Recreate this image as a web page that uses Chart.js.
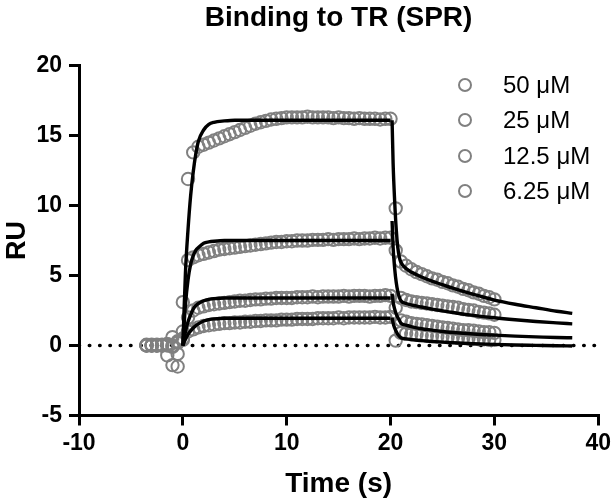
<!DOCTYPE html>
<html>
<head>
<meta charset="utf-8">
<script src="https://cdn.jsdelivr.net/npm/chart.js@4.4.1/dist/chart.umd.min.js"></script>
<style>
  html, body { margin: 0; padding: 0; background: #fff; }
  #wrap { position: relative; width: 615px; height: 502px; }
  #legend {
    position: absolute; left: 458px; top: 67px;
    font-family: 'Liberation Sans', Arial, sans-serif; font-size: 24px; color: #000;
  }
  #legend .row { display: flex; align-items: center; height: 35.5px; white-space: nowrap; }
  #legend .dot {
    width: 10px; height: 10px; border: 2px solid #808080; border-radius: 50%;
    margin-right: 31px;
  }
</style>
</head>
<body>
<div id="wrap">
  <canvas id="myChart" width="615" height="502"></canvas>
  <div id="legend"></div>
</div>
<script>
// concentrations (legend order)
const seriesLabels = ['50 μM', '25 μM', '12.5 μM', '6.25 μM'];

// sensorgram sample times (s)
const sampleTimes = [
  -3.5, -3, -2.5, -2, -1.5, -1, -0.5,
  0, 0.5, 1, 1.5, 2, 2.5, 3, 3.5, 4, 4.5, 5, 5.5, 6, 6.5, 7, 7.5, 8, 8.5, 9, 9.5, 10,
  10.5, 11, 11.5, 12, 12.5, 13, 13.5, 14, 14.5, 15, 15.5, 16, 16.5, 17, 17.5, 18, 18.5, 19, 19.5, 20,
  20.5, 21, 21.5, 22, 22.5, 23, 23.5, 24, 24.5, 25, 25.5, 26, 26.5, 27, 27.5, 28, 28.5, 29, 29.5, 30
];

// measured RU
const ru50 = [
  0, 0, 0.05, 0, -0.7, -1.4, -0.6,
  0.4, 11.9, 13.8, 14.2, 14.35, 14.5, 14.65, 14.8, 14.95, 15.1, 15.25, 15.4, 15.55, 15.7, 15.85, 15.95, 16.05, 16.15, 16.2, 16.25, 16.3,
  16.3, 16.3, 16.3, 16.35, 16.3, 16.3, 16.3, 16.3, 16.25, 16.3, 16.25, 16.25, 16.2, 16.25, 16.2, 16.2, 16.2, 16.15, 16.2, 16.2,
  9.8, 6.0, 5.7, 5.45, 5.25, 5.1, 4.95, 4.8, 4.7, 4.55, 4.45, 4.3, 4.2, 4.05, 3.95, 3.8, 3.7, 3.55, 3.45, 3.3
];
const ru25 = [
  0, 0.05, 0, 0, 0.1, -0.1, -1.5,
  0.5, 6.1, 6.3, 6.45, 6.55, 6.65, 6.75, 6.85, 6.9, 6.95, 7.0, 7.05, 7.1, 7.15, 7.2, 7.25, 7.3, 7.35, 7.4, 7.4, 7.45,
  7.45, 7.5, 7.5, 7.5, 7.55, 7.55, 7.55, 7.6, 7.55, 7.6, 7.6, 7.6, 7.65, 7.6, 7.65, 7.65, 7.7, 7.65, 7.7, 7.7,
  6.8, 3.4, 3.25, 3.15, 3.1, 3.05, 3.0, 2.95, 2.9, 2.85, 2.8, 2.75, 2.7, 2.6, 2.55, 2.5, 2.4, 2.35, 2.3, 2.2
];
const ru12 = [
  0, 0, 0, 0.05, 0, 0.6, 0.2,
  3.1, 2.0, 2.5, 2.7, 2.8, 2.9, 2.95, 3.0, 3.05, 3.1, 3.15, 3.2, 3.2, 3.25, 3.3, 3.3, 3.35, 3.35, 3.4, 3.4, 3.4,
  3.4, 3.45, 3.45, 3.45, 3.5, 3.45, 3.5, 3.5, 3.5, 3.5, 3.55, 3.5, 3.55, 3.55, 3.55, 3.5, 3.55, 3.55, 3.6, 3.55,
  2.7, 1.8, 1.7, 1.6, 1.55, 1.5, 1.45, 1.4, 1.35, 1.3, 1.25, 1.2, 1.15, 1.1, 1.1, 1.05, 1.0, 0.95, 0.95, 0.9
];
const ru6 = [
  0.05, 0, 0, 0, 0.1, 0, 0.3,
  1.0, 1.0, 1.15, 1.3, 1.4, 1.45, 1.5, 1.55, 1.6, 1.6, 1.65, 1.65, 1.7, 1.7, 1.75, 1.75, 1.8, 1.8, 1.8, 1.85, 1.85,
  1.85, 1.9, 1.9, 1.9, 1.9, 1.95, 1.95, 1.95, 1.95, 2.0, 1.95, 2.0, 2.0, 2.0, 2.0, 2.0, 2.05, 2.0, 2.0, 2.05,
  0.35, 0.9, 0.85, 0.8, 0.8, 0.75, 0.7, 0.7, 0.65, 0.65, 0.6, 0.6, 0.55, 0.55, 0.5, 0.5, 0.45, 0.45, 0.4, 0.4
];

// fitted curves, association phase
const assocFitTimes = [0, 0.25, 0.5, 0.75, 1, 1.25, 1.5, 2, 2.5, 3, 4, 5, 7, 10, 15, 20];
const assocFit50 = [0, 5.2, 8.3, 10.7, 12.4, 13.7, 14.6, 15.4, 15.8, 15.95, 16.05, 16.1, 16.1, 16.1, 16.1, 16.1];
const assocFit25 = [0, 2.9, 4.7, 5.8, 6.4, 6.8, 7.0, 7.3, 7.4, 7.45, 7.5, 7.5, 7.5, 7.5, 7.5, 7.5];
const assocFit12 = [0, 1.0, 1.7, 2.2, 2.6, 2.85, 3.0, 3.2, 3.3, 3.35, 3.4, 3.4, 3.4, 3.4, 3.4, 3.4];
const assocFit6 = [0, 0.45, 0.8, 1.05, 1.25, 1.42, 1.55, 1.75, 1.85, 1.9, 1.95, 1.95, 1.95, 1.95, 1.95, 1.95];

// fitted curves, dissociation phase
const dissocFitTimes = [20.15, 20.25, 20.4, 20.55, 20.7, 20.85, 21, 21.5, 22, 23, 24, 25, 26, 28, 30, 32, 34, 36, 37.5];
const dissocFit50 = [16.1, 13.0, 10.3, 8.3, 7.0, 6.3, 5.95, 5.5, 5.25, 4.9, 4.6, 4.35, 4.1, 3.65, 3.25, 2.95, 2.7, 2.45, 2.3];
const dissocFit25 = [8.9, 7.0, 5.5, 4.5, 3.85, 3.45, 3.2, 3.0, 2.9, 2.75, 2.6, 2.48, 2.36, 2.15, 1.98, 1.84, 1.72, 1.62, 1.55];
const dissocFit12 = [3.7, 3.1, 2.6, 2.25, 2.0, 1.8, 1.6, 1.45, 1.35, 1.2, 1.1, 1.0, 0.93, 0.82, 0.74, 0.67, 0.62, 0.57, 0.55];
const dissocFit6 = [2.0, 1.6, 1.25, 1.0, 0.8, 0.65, 0.55, 0.47, 0.42, 0.35, 0.29, 0.24, 0.2, 0.13, 0.08, 0.04, 0.01, -0.02, -0.03];

// axes
const xTicks = [-10, 0, 10, 20, 30, 40];
const yTicks = [-5, 0, 5, 10, 15, 20];

const FONT = "'Liberation Sans', Arial, Helvetica, sans-serif";
Chart.defaults.font.family = FONT;
Chart.defaults.color = '#000';

function pts(xs, ys) {
  return xs.map((x, i) => ({ x: x, y: ys[i] }));
}

const measured = [ru50, ru25, ru12, ru6];
const assocFits = [assocFit50, assocFit25, assocFit12, assocFit6];
const dissocFits = [dissocFit50, dissocFit25, dissocFit12, dissocFit6];

const datasets = [];
measured.forEach((vals, i) => {
  datasets.push({
    label: seriesLabels[i],
    isSeries: true,
    data: pts(sampleTimes, vals),
    pointStyle: 'circle',
    pointRadius: 6.2,
    borderWidth: 2,
    borderColor: '#808080',
    backgroundColor: 'rgba(0,0,0,0)',
    order: 1
  });
});
function fitLine(xs, ys) {
  return {
    label: 'fit',
    data: pts(xs, ys),
    showLine: true,
    pointRadius: 0,
    borderColor: '#000',
    borderWidth: 3.4,
    cubicInterpolationMode: 'monotone',
    fill: false,
    order: 0
  };
}
assocFits.forEach(f => datasets.push(fitLine(assocFitTimes, f)));
dissocFits.forEach(f => datasets.push(fitLine(dissocFitTimes, f)));

// dotted baseline at 0
datasets.push({
  label: 'zero',
  data: pts([xTicks[0], xTicks[xTicks.length - 1]], [0, 0]),
  showLine: true,
  pointRadius: 0,
  borderColor: '#000',
  borderWidth: 3.5,
  borderDash: [0.5, 9.8],
  borderCapStyle: 'round',
  order: 2
});

const htmlLegend = {
  id: 'htmlLegend',
  afterUpdate(chart) {
    const box = document.getElementById('legend');
    box.innerHTML = '';
    chart.data.datasets.filter(d => d.isSeries).forEach(d => {
      const row = document.createElement('div');
      row.className = 'row';
      const dot = document.createElement('span');
      dot.className = 'dot';
      const txt = document.createElement('span');
      txt.textContent = d.label;
      row.appendChild(dot);
      row.appendChild(txt);
      box.appendChild(row);
    });
  }
};

const axisTick = { display: true, drawOnChartArea: false, drawTicks: true, tickLength: 10, color: '#000', lineWidth: 3 };

const config = {
  type: 'scatter',
  data: { datasets: datasets },
  options: {
    responsive: false,
    animation: false,
    events: [],
    layout: { padding: { left: 0, right: 14, top: 0, bottom: 0 } },
    plugins: {
      legend: { display: false },
      tooltip: { enabled: false },
      title: {
        display: true,
        text: 'Binding to TR (SPR)',
        fullSize: false,
        font: { size: 28, weight: 'bold' },
        color: '#000',
        padding: { top: 1, bottom: 31 }
      }
    },
    scales: {
      x: {
        type: 'linear',
        min: xTicks[0],
        max: xTicks[xTicks.length - 1],
        ticks: { stepSize: 10, font: { size: 23, weight: 'bold' }, color: '#000', padding: 4 },
        grid: axisTick,
        border: { display: true, color: '#000', width: 3 },
        title: { display: true, text: 'Time (s)', font: { size: 28, weight: 'bold' }, color: '#000', padding: { top: 0, bottom: 1 } },
        afterFit: s => { s.height = 86.5; }
      },
      y: {
        type: 'linear',
        min: yTicks[0],
        max: yTicks[yTicks.length - 1],
        ticks: { stepSize: 5, font: { size: 23, weight: 'bold' }, color: '#000', padding: 7 },
        grid: axisTick,
        border: { display: true, color: '#000', width: 3 },
        title: { display: true, text: 'RU', font: { size: 27, weight: 'bold' }, color: '#000', padding: { top: 1, bottom: 0 } },
        afterFit: s => { s.width = 79; }
      }
    }
  },
  plugins: [htmlLegend]
};

const myChart = new Chart(document.getElementById('myChart'), config);
</script>
</body>
</html>
